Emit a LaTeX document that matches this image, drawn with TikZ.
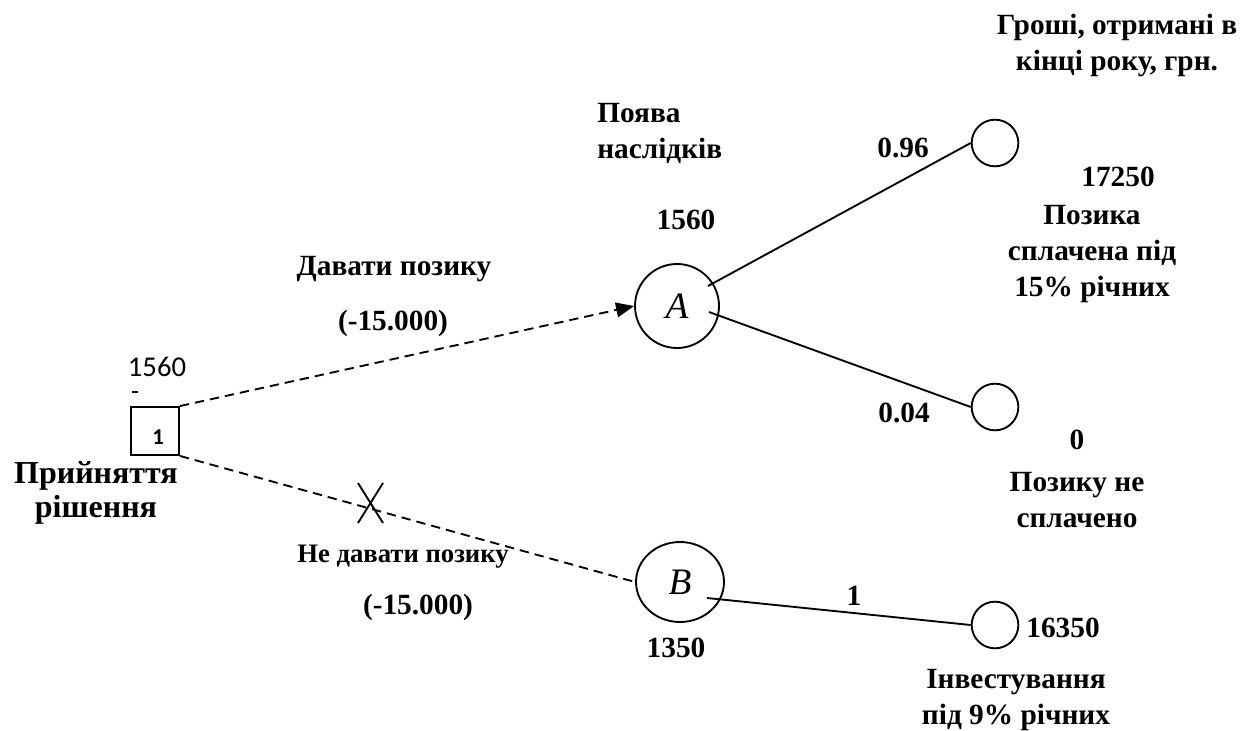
\documentclass[tikz,border=0pt]{standalone}
\usepackage{fontspec}
\setmainfont{Liberation Serif}
\newfontfamily\calibrifont{Carlito}
\usetikzlibrary{arrows.meta,shapes.geometric}

\tikzset{
  lbl/.style={font=\bfseries\fontsize{22}{27}\selectfont, align=center, inner sep=0pt},
  lblsmall/.style={font=\bfseries\fontsize{20}{25}\selectfont, align=center, inner sep=0pt},
  bigcirc/.style={draw, circle, line width=1.4pt, minimum size=63pt, inner sep=0pt,
                  font=\itshape\fontsize{28}{32}\selectfont},
  leafcirc/.style={draw, circle, line width=1.4pt, minimum size=35pt, inner sep=0pt},
  decbox/.style={draw, rectangle, line width=1.4pt, minimum size=36pt, inner sep=0pt},
  branch/.style={line width=1.4pt},
  dashbranch/.style={line width=1.4pt, dash pattern=on 7pt off 4.5pt},
}

\begin{document}
\begin{tikzpicture}[x=0.75pt, y=-0.75pt]
  \useasboundingbox (0,0) rectangle (1242,731);

  % decision box and chance nodes
  \node[decbox] (D) at (155,431) {};
  \node[font=\calibrifont\bfseries\fontsize{17}{19}\selectfont, inner sep=0pt] (Dnum) at (158,437) {1};
  \node[bigcirc] (A) at (677,306) {A};
  \node[bigcirc, ellipse, minimum width=66pt, minimum height=60pt] (B) at (680,582) {B};

  % terminal nodes
  \node[leafcirc] (T1) at (995,143) {};
  \node[leafcirc] (T2) at (995,407) {};
  \node[leafcirc] (T3) at (995,625) {};

  % decision branches
  \draw[dashbranch, -{Triangle[length=13.5pt,width=11pt]}] (D.north east) -- (A.west);
  \draw[dashbranch] (D.south east) -- (B.west);

  % rejected branch mark
  \coordinate (X) at (371,503);
  \draw[line width=1.4pt] (X) +(-13,-20) -- +(12,20);
  \draw[line width=1.4pt] (X) +(12,-20) -- +(-13,20);

  % chance branches
  \coordinate (Aout1) at (708,286);
  \coordinate (Aout2) at (709,312);
  \coordinate (Bout) at (707,598);
  \draw[branch] (Aout1) -- (T1.west);
  \draw[branch] (Aout2) -- (T2.west);
  \draw[branch] (Bout) -- (T3.west);

  % value at decision node
  \node[font=\calibrifont\fontsize{21.5}{24}\selectfont, inner sep=0pt] (Dval) at (157,367) {1560};
  \coordinate (Dtick) at (135,392);
  \draw[line width=0.8pt] (Dtick) +(-3,0) -- +(3,0);
  \node[lbl, font=\bfseries\fontsize{24}{26}\selectfont] (Dlbl) at (96,493) {Прийняття\\рішення};

  % branch labels
  \node[lbl] (give) at (394,269) {Давати позику};
  \node[lbl] (givecost) at (393,323) {(-15.000)};
  \node[lblsmall] (nogive) at (403,557) {Не давати позику};
  \node[lbl] (nogivecost) at (418,607) {(-15.000)};

  % chance node values and headers
  \node[lbl, align=left, anchor=west] (events) at (597,133) {Поява\\наслідків};
  \node[lbl] (Aval) at (686,220) {1560};
  \node[lbl] (Bval) at (676,648) {1350};
  \node[lbl] (title) at (1117,45) {Гроші, отримані в\\кінці року, грн.};

  % probabilities
  \node[lbl] (p1) at (903,148) {0.96};
  \node[lbl] (p2) at (904,413) {0.04};
  \node[lbl] (p3) at (854,596) {1};

  % outcomes
  \node[lbl] (v1) at (1118,177) {17250};
  \node[lbl] (o1) at (1092,254) {Позика\\сплачена під\\15\% річних};
  \node[lbl] (v2) at (1077,440) {0};
  \node[lbl] (o2) at (1077,500) {Позику не\\сплачено};
  \node[lbl] (v3) at (1063,628) {16350};
  \node[lbl] (o3) at (1016,700) {Інвестування\\під 9\% річних};
\end{tikzpicture}
\end{document}
